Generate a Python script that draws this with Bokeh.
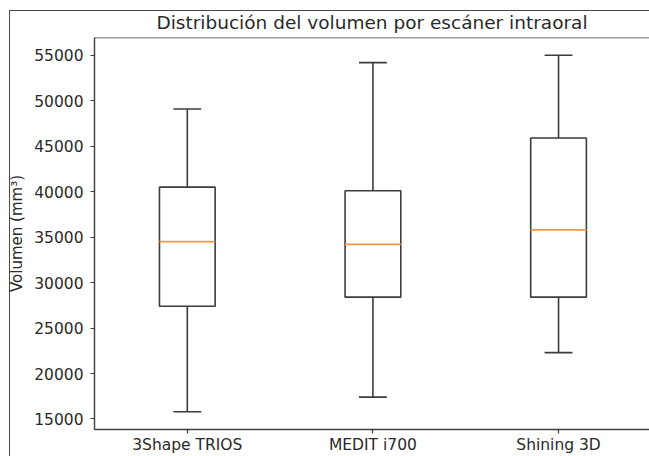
from bokeh.plotting import figure
from bokeh.models import Range1d, FixedTicker, Span
from bokeh.embed import file_html
from bokeh.resources import INLINE

# ---- data ----
scanners = ["3Shape TRIOS", "MEDIT i700", "Shining 3D"]
positions = [1, 2, 3]
whisker_low = [15800, 17400, 22300]
q1 = [27400, 28400, 28400]
medians = [34500, 34200, 35800]
q3 = [40500, 40100, 45900]
whisker_high = [49100, 54200, 55000]
y_ticks = [15000, 20000, 25000, 30000, 35000, 40000, 45000, 50000, 55000]

title_text = "Distribución del volumen por escáner intraoral"
y_label = "Volumen (mm³)"

# ---- styling ----
FONT = "DejaVu Sans"
LINE = "#3c3c3c"
FRAME = "#4a4a4a"
TEXT = "#2a2a2a"
MED = "#fb9547"
half_w = 0.15
cap_w = 0.075

lo = min(whisker_low)
hi = max(whisker_high)
pad = (hi - lo) * 0.05

p = figure(width=649, height=456, output_backend="svg", toolbar_location=None,
           x_range=Range1d(0.5, 3.49), y_range=Range1d(lo - pad, hi + pad),
           min_border_left=94, min_border_top=37, min_border_bottom=25, min_border_right=0)
p.border_fill_alpha = 0
p.styles = {
    "background-color": "white",
    "background-image": f"linear-gradient({FRAME},{FRAME}), linear-gradient({FRAME},{FRAME})",
    "background-repeat": "no-repeat",
    "background-position": "9px 10px, 9px 10px",
    "background-size": "1px 100%, 100% 1px",
}

p.background_fill_color = "white"
p.outline_line_color = None
p.xgrid.visible = False
p.ygrid.visible = False

# top spine
p.add_layout(Span(location=hi + pad, dimension="width", line_color=LINE, line_width=1.4))

# boxes
left = [x - half_w for x in positions]
right = [x + half_w for x in positions]
p.quad(left=left, right=right, bottom=q1, top=q3, fill_color=None,
       line_color=LINE, line_width=1.6)
# whiskers
p.segment(x0=positions, y0=q3, x1=positions, y1=whisker_high, line_color=LINE, line_width=1.6)
p.segment(x0=positions, y0=q1, x1=positions, y1=whisker_low, line_color=LINE, line_width=1.6)
# caps
cl = [x - cap_w for x in positions]
cr = [x + cap_w for x in positions]
p.segment(x0=cl, y0=whisker_high, x1=cr, y1=whisker_high, line_color=LINE, line_width=1.6)
p.segment(x0=cl, y0=whisker_low, x1=cr, y1=whisker_low, line_color=LINE, line_width=1.6)
# medians
p.segment(x0=left, y0=medians, x1=right, y1=medians, line_color=MED, line_width=1.8)

# axes
p.xaxis.ticker = FixedTicker(ticks=positions)
p.xaxis.major_label_overrides = {pos: name for pos, name in zip(positions, scanners)}
p.yaxis.ticker = FixedTicker(ticks=y_ticks)
for ax in (p.xaxis, p.yaxis):
    ax.axis_line_color = LINE
    ax.axis_line_width = 1.4
    ax.major_tick_line_color = LINE
    ax.major_tick_line_width = 1.2
    ax.major_tick_out = 4
    ax.major_tick_in = 0
    ax.minor_tick_line_color = None
    ax.major_label_text_font = FONT
    ax.major_label_text_font_size = "15.5px"
    ax.major_label_text_color = TEXT
    ax.axis_label_text_font = FONT
    ax.axis_label_text_font_style = "normal"
    ax.axis_label_text_color = TEXT
p.xaxis.major_label_standoff = 2
p.yaxis.major_label_standoff = 7
p.yaxis.axis_label = y_label
p.yaxis.axis_label_text_font_size = "15px"
p.yaxis.axis_label_standoff = 5

p.title.text = title_text
p.title.align = "center"
p.title.text_font = FONT
p.title.text_font_size = "18.5px"
p.title.text_font_style = "normal"
p.title.text_color = TEXT
p.title.text_line_height = 1.0
p.title.standoff = 10

open("out.html", "w").write(file_html(p, INLINE))
